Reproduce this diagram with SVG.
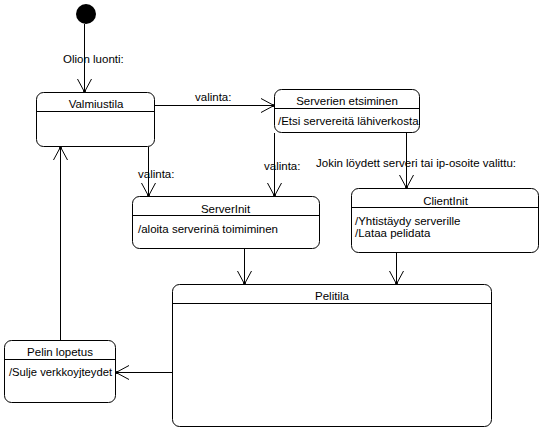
<svg xmlns="http://www.w3.org/2000/svg" width="544" height="432" viewBox="0 0 544 432">
  <defs>
    <style>
      .st { fill: #fff; stroke: #000; stroke-width: 1; }
      .dv { stroke: #000; stroke-width: 1; }
      .cn { fill: none; stroke: #000; stroke-width: 1; }
      text { font-family: "Liberation Sans", Arial, sans-serif; font-size: 11.5px; fill: #000; }
      .c { text-anchor: middle; }
    </style>
    <marker id="open" markerUnits="userSpaceOnUse" markerWidth="30" markerHeight="30" refX="15" refY="15" orient="auto" viewBox="0 0 30 30">
      <path d="M2,8 L15,15 L2,22" fill="none" stroke="#000" stroke-width="1"/>
      <circle cx="14" cy="15" r="1.5" fill="#000"/>
    </marker>
  </defs>
  <rect width="544" height="432" fill="#fff"/>

  <g id="connectors">
    <path class="cn" d="M84.5,24 V92" marker-end="url(#open)"/>
    <path class="cn" d="M155,105.5 H274" marker-end="url(#open)"/>
    <path class="cn" d="M148.5,147 V196" marker-end="url(#open)"/>
    <path class="cn" d="M274.5,133 V196" marker-end="url(#open)"/>
    <path class="cn" d="M406.5,133 V188" marker-end="url(#open)"/>
    <path class="cn" d="M244.5,249 V284" marker-end="url(#open)"/>
    <path class="cn" d="M396.5,253 V284" marker-end="url(#open)"/>
    <path class="cn" d="M172,372.5 H116" marker-end="url(#open)"/>
    <path class="cn" d="M60.5,340 V147" marker-end="url(#open)"/>
    <text x="63" y="63">Olion luonti:</text>
    <text x="195" y="100.5">valinta:</text>
    <text x="138" y="178">valinta:</text>
    <text x="264" y="170">valinta:</text>
    <text x="316" y="166.5">Jokin löydett serveri tai ip-osoite valittu:</text>
  </g>

  <g id="initial">
    <circle cx="86" cy="14" r="10" fill="#000"/>
  </g>

  <g id="valmiustila">
    <rect class="st" x="36.5" y="92.5" width="118" height="54" rx="7"/>
    <line class="dv" x1="36.5" y1="111.5" x2="154.5" y2="111.5"/>
    <text class="c" x="96" y="108">Valmiustila</text>
  </g>

  <g id="serverien-etsiminen">
    <rect class="st" x="274.5" y="89.5" width="145" height="43" rx="7"/>
    <line class="dv" x1="274.5" y1="108.5" x2="419.5" y2="108.5"/>
    <text class="c" x="347" y="105">Serverien etsiminen</text>
    <text x="278" y="125">/Etsi servereitä lähiverkosta</text>
  </g>

  <g id="serverinit">
    <rect class="st" x="132.5" y="196.5" width="187" height="52" rx="7"/>
    <line class="dv" x1="132.5" y1="215.5" x2="319.5" y2="215.5"/>
    <text class="c" x="225.5" y="213">ServerInit</text>
    <text x="138" y="233">/aloita serverinä toimiminen</text>
  </g>

  <g id="clientinit">
    <rect class="st" x="351.5" y="188.5" width="187" height="64" rx="7"/>
    <line class="dv" x1="351.5" y1="207.5" x2="538.5" y2="207.5"/>
    <text class="c" x="445.5" y="205">ClientInit</text>
    <text x="355" y="224.5">/Yhtistäydy serverille</text>
    <text x="355" y="236.5">/Lataa pelidata</text>
  </g>

  <g id="pelitila">
    <rect class="st" x="172.5" y="284.5" width="319" height="142" rx="7"/>
    <line class="dv" x1="172.5" y1="303.5" x2="491.5" y2="303.5"/>
    <text class="c" x="332" y="300">Pelitila</text>
  </g>

  <g id="pelin-lopetus">
    <rect class="st" x="4.5" y="340.5" width="111" height="62" rx="7"/>
    <line class="dv" x1="4.5" y1="359.5" x2="115.5" y2="359.5"/>
    <text class="c" x="60" y="356">Pelin lopetus</text>
    <text x="9" y="376" textLength="103" lengthAdjust="spacingAndGlyphs">/Sulje verkkoyjteydet</text>
  </g>
</svg>
